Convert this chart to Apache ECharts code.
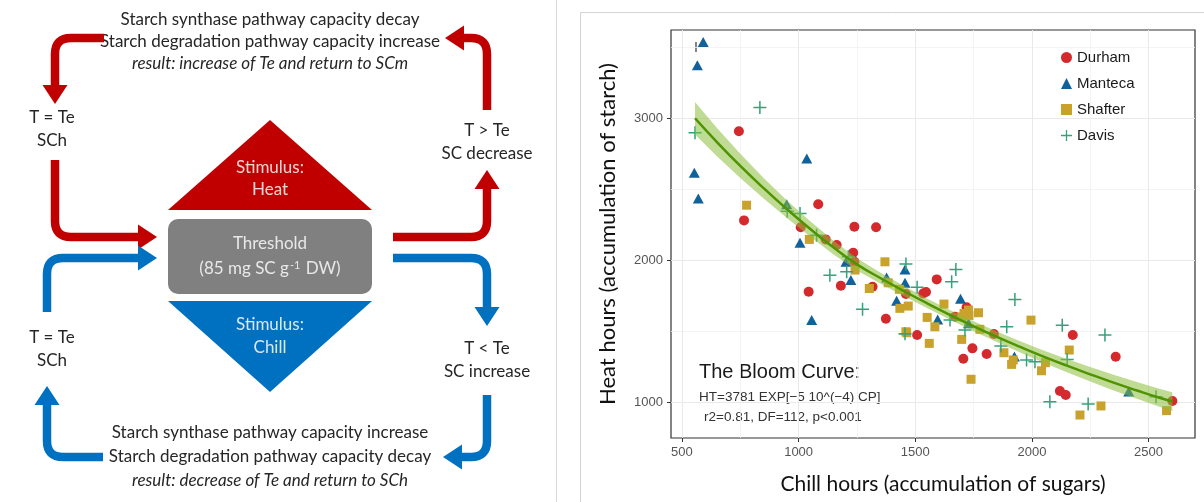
<!DOCTYPE html>
<html>
<head>
<meta charset="utf-8">
<script src="https://cdn.jsdelivr.net/npm/echarts@6/dist/echarts.min.js"></script>
<style>
  html, body { margin: 0; padding: 0; background: #fff; }
  #main { width: 1204px; height: 502px; }
</style>
</head>
<body>
<div id="main"></div>
<script>
// ---- data ----
var sites = ['Durham', 'Manteca', 'Shafter', 'Davis'];

var durham = [[744,2908],[766,2280],[1009,2232],[1084,2394],[1239,2235],[1332,2232],[1116,2146],[1163,2106],
  [1234,2052],[1239,1988],[1181,1819],[1043,1777],[1317,1812],[1374,1587],[1592,1864],[1534,1765],[1546,1775],
  [1460,1761],[1720,1667],[1670,1601],[1837,1479],[1508,1472],[1745,1378],[1806,1338],[1706,1305],[2175,1472],
  [2359,1319],[2120,1077],[2145,1049],[2602,1007]];

var manteca = [[591,3537],[566,3373],[553,2615],[570,2434],[1035,2716],[949,2394],[1006,2122],[1203,1988],
  [1224,1859],[1377,1878],[1456,1934],[1456,1840],[1420,1713],[1056,1577],[1596,1582],[1694,1728],[1728,1554],
  [1925,1320],[2415,1073]];

var shafter = [[777,2387],[1046,2146],[1242,1930],[1303,1800],[1370,1988],[1384,1840],[1432,1794],[1434,1660],
  [1470,1676],[1460,1495],[1463,1488],[1623,1690],[1728,1648],[1709,1624],[1700,1600],[1730,1610],[1771,1629],
  [1551,1596],[1584,1530],[1777,1512],[1996,1577],[1560,1413],[1699,1441],[1880,1347],[1920,1296],[1913,1265],
  [1739,1160],[2160,1366],[2058,1277],[2041,1220],[2206,908],[2296,972],[2577,939]];

var davis = [[556,2897],[834,3075],[951,2345],[1006,2328],[1077,2176],[1213,2023],[1206,1918],[1134,1894],
  [1274,1653],[1460,1972],[1674,1934],[1656,1847],[1508,1808],[1649,1577],[1713,1507],[1892,1530],[1927,1723],
  [1456,1480],[1977,1296],[2013,1284],[1867,1394],[2130,1540],[2313,1472],[2151,1300],[2077,1002],[2241,986],
  [2532,1037]];

// fitted bloom curve and its confidence band
var curveX = [556, 650, 750, 850, 950, 1050, 1150, 1250, 1350, 1450, 1550, 1650, 1750, 1850, 1950, 2050, 2150, 2250, 2350, 2450, 2550, 2602];
var curveY = [3000, 2832, 2664, 2507, 2359, 2219, 2088, 1970, 1874, 1783, 1696, 1613, 1534, 1459, 1388, 1320, 1256, 1195, 1136, 1081, 1028, 1003];
var bandUpper = [3115, 2932, 2749, 2579, 2421, 2273, 2136, 2013, 1913, 1819, 1730, 1647, 1569, 1496, 1428, 1363, 1303, 1246, 1191, 1140, 1091, 1069];
var bandLower = [2885, 2732, 2579, 2435, 2297, 2165, 2040, 1927, 1835, 1747, 1662, 1579, 1499, 1422, 1348, 1277, 1209, 1144, 1081, 1022, 965, 937];

var xMajor = [500, 1000, 1500, 2000, 2500];
var xMinor = [750, 1250, 1750, 2250];
var yMajor = [1000, 2000, 3000];
var yMinor = [1500, 2500, 3500];

// ---- left diagram helpers ----
var RED = '#c00000', BLUE = '#0070c0';
var FONT = 'Lato';

function arrow(s, c, t, color) {
  var r = 16, w = 8.5, hl = 19, hw = 12.5;
  var l1 = Math.hypot(c[0] - s[0], c[1] - s[1]), l2 = Math.hypot(t[0] - c[0], t[1] - c[1]);
  var d1 = [(c[0] - s[0]) / l1, (c[1] - s[1]) / l1];
  var d2 = [(t[0] - c[0]) / l2, (t[1] - c[1]) / l2];
  var c1 = [c[0] - d1[0] * r, c[1] - d1[1] * r];
  var c2 = [c[0] + d2[0] * r, c[1] + d2[1] * r];
  var hb = [t[0] - d2[0] * hl, t[1] - d2[1] * hl];
  var n = [-d2[1], d2[0]];
  var st = { stroke: color, lineWidth: w, fill: null };
  return [
    { type: 'line', silent: true, shape: { x1: s[0], y1: s[1], x2: c1[0], y2: c1[1] }, style: st },
    { type: 'bezierCurve', silent: true, shape: { x1: c1[0], y1: c1[1], cpx1: c[0], cpy1: c[1], x2: c2[0], y2: c2[1] }, style: st },
    { type: 'line', silent: true, shape: { x1: c2[0], y1: c2[1], x2: hb[0] + d2[0], y2: hb[1] + d2[1] }, style: st },
    { type: 'polygon', silent: true, shape: { points: [[hb[0] + n[0] * hw, hb[1] + n[1] * hw], [hb[0] - n[0] * hw, hb[1] - n[1] * hw], t] }, style: { fill: color } }
  ];
}

function label(text, x, y, opts) {
  opts = opts || {};
  return {
    type: 'text', silent: true, x: x, y: y,
    style: {
      text: text, fill: opts.fill || '#262626', fontSize: opts.size || 17, fontFamily: opts.family || FONT,
      fontStyle: opts.italic ? 'italic' : 'normal',
      align: opts.align || 'center', textAlign: opts.align || 'center',
      verticalAlign: 'middle', textVerticalAlign: 'middle', rich: opts.rich
    }
  };
}

var diagram = [].concat(
  // separators / frame
  [{ type: 'line', silent: true, shape: { x1: 556.5, y1: 0, x2: 556.5, y2: 502 }, style: { stroke: '#d9d9d9', lineWidth: 1 } },
   { type: 'line', silent: true, shape: { x1: 580.5, y1: 12.5, x2: 580.5, y2: 502 }, style: { stroke: '#d4d4d4', lineWidth: 1 } },
   { type: 'line', silent: true, shape: { x1: 580.5, y1: 12.5, x2: 1204, y2: 12.5 }, style: { stroke: '#d4d4d4', lineWidth: 1 } },
   { type: 'line', silent: true, shape: { x1: 696, y1: 42, x2: 696, y2: 52 }, style: { stroke: '#333', lineWidth: 1.2 } }],
  // top text
  [label('Starch synthase pathway capacity decay', 270, 20),
   label('Starch degradation pathway capacity increase', 270, 42),
   label('result: increase of Te and return to SCm', 270, 64, { italic: true })],
  arrow([104, 38], [55, 38], [55, 104], RED),
  arrow([55, 160], [55, 237], [157, 237], RED),
  arrow([393, 237], [487, 237], [487, 170], RED),
  arrow([487, 110], [487, 38], [445, 38], RED),
  [label('T = Te', 52, 118), label('SCh', 52, 141),
   label('T > Te', 487, 131), label('SC decrease', 487, 154),
   { type: 'polygon', silent: true, shape: { points: [[168, 210], [372, 210], [270, 120]] }, style: { fill: RED } },
   label('Stimulus:', 270, 168, { fill: '#f6d4d4', size: 17 }),
   label('Heat', 270, 190, { fill: '#f6d4d4', size: 17 }),
   { type: 'rect', silent: true, shape: { x: 168, y: 219, width: 204, height: 75, r: 10 }, style: { fill: '#808080' } },
   label('Threshold', 270, 244, { fill: '#e8e8e8', size: 17 }),
   label('(85 mg SC g{sup|-1} DW)', 270, 269, { fill: '#e8e8e8', size: 17,
     rich: { sup: { fontSize: 11, fill: '#e8e8e8', fontFamily: FONT, verticalAlign: 'top', padding: [0, 1, 8, 1] } } }),
   { type: 'polygon', silent: true, shape: { points: [[168, 301], [372, 301], [270, 392]] }, style: { fill: BLUE } },
   label('Stimulus:', 270, 325, { fill: '#d8e8f6', size: 17 }),
   label('Chill', 270, 348, { fill: '#d8e8f6', size: 17 }),
   label('T = Te', 52, 338), label('SCh', 52, 361),
   label('T < Te', 487, 349), label('SC increase', 487, 372)],
  arrow([47, 312], [47, 258], [157, 258], BLUE),
  arrow([103, 457], [47, 457], [47, 386], BLUE),
  arrow([393, 258], [487, 258], [487, 326], BLUE),
  arrow([487, 395], [487, 457], [443, 457], BLUE),
  [label('Starch synthase pathway capacity increase', 270, 433),
   label('Starch degradation pathway capacity decay', 270, 457),
   label('result: decrease of Te and return to SCh', 270, 481, { italic: true })],
  // bloom curve annotation
  [label('The Bloom Curve:', 699, 372, { align: 'left', size: 20, family: 'Liberation Sans', fill: '#1a1a1a' }),
   label('HT=3781 EXP[\u22125 10^(\u22124) CP]', 699, 397, { align: 'left', size: 13.5, family: 'Liberation Sans', fill: '#333' }),
   label('r2=0.81, DF=112, p<0.001', 704, 417, { align: 'left', size: 13.5, family: 'Liberation Sans', fill: '#333' })]
);

var plusPath = 'path://M5.3,0H6.7V12H5.3ZM0,5.3H12V6.7H0Z';
var plain = function (v) { return String(v); };

function minorAxis(vals) {
  return {
    axisLine: { show: false }, axisTick: { show: false, customValues: vals },
    axisLabel: { show: false, customValues: vals },
    splitLine: { show: true, lineStyle: { color: '#f1f1f1', width: 0.8 } }
  };
}

var chart = echarts.init(document.getElementById('main'));
var option = {
  animation: false,
  backgroundColor: '#fff',
  graphic: { elements: diagram },
  grid: { left: 671, right: 9, top: 30, bottom: 64, show: true, borderColor: '#333', borderWidth: 1.2, backgroundColor: 'transparent' },
  legend: {
    data: sites, orient: 'vertical', left: 1056, top: 45, itemGap: 11, itemWidth: 11, itemHeight: 11,
    textStyle: { fontFamily: 'Liberation Sans', fontSize: 15, color: '#1a1a1a' }
  },
  xAxis: [
    {
      type: 'value', min: 453, max: 2699,
      name: 'Chill hours (accumulation of sugars)', nameLocation: 'middle', nameGap: 36,
      nameTextStyle: { fontFamily: FONT, fontSize: 21, color: '#111', padding: [0, 0, 0, 20] },
      axisLine: { show: false },
      axisTick: { show: true, length: 4, customValues: xMajor, lineStyle: { color: '#333' } },
      axisLabel: { customValues: xMajor, formatter: plain, margin: 8, fontFamily: 'Liberation Sans', fontSize: 13, color: '#555' },
      splitLine: { show: true, lineStyle: { color: '#e9e9e9', width: 1 } }
    },
    Object.assign({ type: 'value', min: 453, max: 2699 }, minorAxis(xMinor))
  ],
  yAxis: [
    {
      type: 'value', min: 746, max: 3622,
      name: 'Heat hours (accumulation of starch)', nameLocation: 'middle', nameGap: 52,
      nameTextStyle: { fontFamily: FONT, fontSize: 22, color: '#111' },
      axisLine: { show: false },
      axisTick: { show: true, length: 4, customValues: yMajor, lineStyle: { color: '#333' } },
      axisLabel: { customValues: yMajor, formatter: plain, margin: 8, fontFamily: 'Liberation Sans', fontSize: 13, color: '#555' },
      splitLine: { show: true, lineStyle: { color: '#e9e9e9', width: 1 } }
    },
    Object.assign({ type: 'value', min: 746, max: 3622 }, minorAxis(yMinor))
  ],
  series: [
    { name: 'Durham', type: 'scatter', data: durham, symbol: 'circle', symbolSize: 10, itemStyle: { color: '#d42a2e', opacity: 1 }, z: 2 },
    { name: 'Manteca', type: 'scatter', data: manteca, symbol: 'triangle', symbolSize: [11, 10], itemStyle: { color: '#11619b', opacity: 1 }, z: 2 },
    { name: 'Shafter', type: 'scatter', data: shafter, symbol: 'rect', symbolSize: 9, itemStyle: { color: '#c9a22c', opacity: 1 }, z: 2 },
    { name: 'Davis', type: 'scatter', data: davis, symbol: plusPath, symbolSize: 13, itemStyle: { color: '#34a27a', opacity: 1 }, z: 2 },
    {
      name: 'band', type: 'custom', data: [[curveX[0], curveY[0]]], z: 3, silent: true,
      encode: { x: 0, y: 1 },
      renderItem: function (params, api) {
        var pts = [];
        for (var i = 0; i < curveX.length; i++) pts.push(api.coord([curveX[i], bandUpper[i]]));
        for (var j = curveX.length - 1; j >= 0; j--) pts.push(api.coord([curveX[j], bandLower[j]]));
        return { type: 'polygon', shape: { points: pts }, style: { fill: 'rgba(140,190,60,0.55)' } };
      }
    },
    {
      name: 'curve', type: 'line', data: curveX.map(function (x, i) { return [x, curveY[i]]; }),
      smooth: true, showSymbol: false, z: 4, silent: true,
      lineStyle: { color: '#4f9300', width: 2.5 }
    }
  ]
};
chart.setOption(option);
</script>
</body>
</html>
